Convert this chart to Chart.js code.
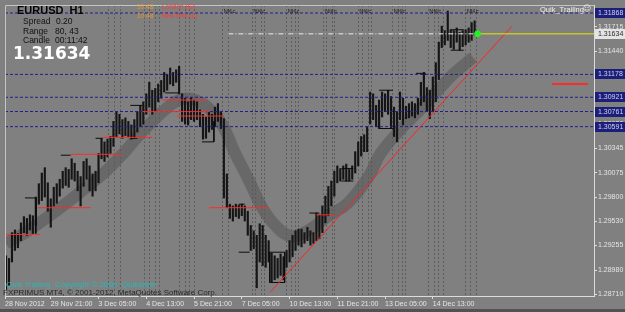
<!DOCTYPE html>
<html>
<head>
<meta charset="utf-8">
<script src="https://cdn.jsdelivr.net/npm/chart.js@4.4.1/dist/chart.umd.min.js"></script>
<style>
  html, body { margin: 0; padding: 0; background: #808080; }
  #wrap { position: relative; width: 625px; height: 312px; background: #808080; overflow: hidden; }
  #c { position: absolute; left: 0; top: 0; }
  #foot { position: absolute; left: 0; top: 309px; width: 625px; height: 3px; background: #525252; }
  .t { position: absolute; white-space: pre; line-height: 1; font-family: "Liberation Sans", Arial, sans-serif; }
</style>
</head>
<body>
<div id="wrap">
  <canvas id="c" width="625" height="312"></canvas>
  <div id="foot"></div>
  <span class="t" style="left:17px;top:5px;font-size:11px;font-weight:bold;color:#050505">EURUSD  H1</span>
  <span class="t" style="left:23px;top:17px;font-size:8.5px;color:#101010">Spread</span>
  <span class="t" style="left:56px;top:17px;font-size:8.5px;color:#101010">0.20</span>
  <span class="t" style="left:23px;top:27px;font-size:8.5px;color:#101010">Range</span>
  <span class="t" style="left:55px;top:27px;font-size:8.5px;color:#101010">80, 43</span>
  <span class="t" style="left:23px;top:36px;font-size:8.5px;color:#101010">Candle</span>
  <span class="t" style="left:55px;top:36px;font-size:8.5px;color:#101010">00:11:42</span>
  <span class="t" style="left:13px;top:45px;font-size:17px;font-weight:bold;color:#ffffff;font-family:'DejaVu Sans',sans-serif">1.31634</span>
  <span class="t" style="left:137px;top:4px;font-size:6.5px;color:#e8962e">10:48</span>
  <span class="t" style="left:162px;top:4px;font-size:6.5px;color:#ff3a3a">London (G)</span>
  <span class="t" style="left:137px;top:12.5px;font-size:6.5px;color:#e8962e">10:48</span>
  <span class="t" style="left:162px;top:12.5px;font-size:6.5px;color:#ff3a3a">NewYork (L)</span>
  <span class="t" style="left:540px;top:5.5px;font-size:7.5px;color:#f0f0f0">Quik_Trailing</span>
  <span class="t" style="left:583px;top:4.5px;font-size:8px;color:#f0f0f0;font-family:'DejaVu Sans',sans-serif">☺</span>
  <span class="t" style="left:6px;top:281px;font-size:8px;color:#26b8b8">Quik Trailing  Copyright © 2009  Quiksilver</span>
  <span class="t" style="left:3px;top:289px;font-size:8px;color:#262626">FXPRIMUS MT4, © 2001-2012, MetaQuotes Software Corp.</span>
</div>
<script>
// EURUSD H1, each entry below is a two-hour slot (x in hourly bars)
const slotHours = 2;
const highs = [
  1.2914, 1.2911, 1.2940, 1.2943, 1.2939, 1.2951, 1.2958, 1.2956, 1.2960, 1.2959,
  1.2980, 1.2995, 1.3007, 1.3013, 1.2996, 1.2978, 1.2991, 1.2995, 1.3000, 1.3009,
  1.3013, 1.3011, 1.3023, 1.3018, 1.3009, 1.3003, 1.3020, 1.3023, 1.3015, 1.3006,
  1.3009, 1.3029, 1.3046, 1.3042, 1.3045, 1.3048, 1.3065, 1.3076, 1.3073, 1.3067,
  1.3069, 1.3065, 1.3061, 1.3067, 1.3076, 1.3083, 1.3087, 1.3096, 1.3109, 1.3100,
  1.3102, 1.3107, 1.3111, 1.3120, 1.3118, 1.3125, 1.3120, 1.3123, 1.3127, 1.3096,
  1.3091, 1.3087, 1.3092, 1.3089, 1.3087, 1.3078, 1.3073, 1.3070, 1.3076, 1.3073,
  1.3081, 1.3085, 1.3076, 1.3068, 1.3006, 1.2972, 1.2970, 1.2972, 1.2971, 1.2972,
  1.2970, 1.2964, 1.2948, 1.2942, 1.2937, 1.2950, 1.2948, 1.2937, 1.2931, 1.2917,
  1.2914, 1.2911, 1.2916, 1.2913, 1.2920, 1.2931, 1.2937, 1.2942, 1.2944, 1.2944,
  1.2940, 1.2946, 1.2942, 1.2940, 1.2962, 1.2960, 1.2970, 1.2981, 1.2992, 1.2998,
  1.3009, 1.3015, 1.3012, 1.3015, 1.3017, 1.3011, 1.3015, 1.3031, 1.3042, 1.3048,
  1.3050, 1.3059, 1.3098, 1.3096, 1.3083, 1.3089, 1.3098, 1.3096, 1.3100, 1.3093,
  1.3081, 1.3076, 1.3098, 1.3091, 1.3082, 1.3085, 1.3087, 1.3085, 1.3091, 1.3109,
  1.3120, 1.3103, 1.3100, 1.3115, 1.3131, 1.3154, 1.3172, 1.3167, 1.3189, 1.3168,
  1.3167, 1.3170, 1.3165, 1.3167, 1.3168, 1.3170, 1.3176, 1.3178
];
const lows = [
  1.2876, 1.2881, 1.2907, 1.2920, 1.2923, 1.2931, 1.2940, 1.2937, 1.2943, 1.2939,
  1.2948, 1.2972, 1.2976, 1.2980, 1.2964, 1.2946, 1.2970, 1.2973, 1.2981, 1.2990,
  1.2993, 1.2991, 1.3000, 1.2998, 1.2987, 1.2970, 1.2992, 1.3000, 1.2987, 1.2981,
  1.2987, 1.2996, 1.3023, 1.3020, 1.3025, 1.3029, 1.3037, 1.3048, 1.3051, 1.3046,
  1.3049, 1.3048, 1.3045, 1.3046, 1.3053, 1.3059, 1.3062, 1.3073, 1.3081, 1.3073,
  1.3076, 1.3087, 1.3091, 1.3098, 1.3100, 1.3107, 1.3105, 1.3109, 1.3096, 1.3065,
  1.3062, 1.3061, 1.3067, 1.3065, 1.3067, 1.3059, 1.3045, 1.3046, 1.3053, 1.3056,
  1.3059, 1.3065, 1.3057, 1.2979, 1.2968, 1.2956, 1.2953, 1.2958, 1.2956, 1.2959,
  1.2953, 1.2937, 1.2920, 1.2922, 1.2878, 1.2907, 1.2903, 1.2901, 1.2907, 1.2884,
  1.2887, 1.2889, 1.2892, 1.2887, 1.2901, 1.2907, 1.2913, 1.2920, 1.2926, 1.2924,
  1.2928, 1.2931, 1.2926, 1.2928, 1.2931, 1.2933, 1.2940, 1.2951, 1.2959, 1.2970,
  1.2981, 1.2996, 1.2998, 1.3000, 1.2998, 1.2998, 1.3000, 1.3007, 1.3015, 1.3026,
  1.3031, 1.3031, 1.3062, 1.3067, 1.3059, 1.3057, 1.3070, 1.3076, 1.3073, 1.3058,
  1.3048, 1.3042, 1.3067, 1.3061, 1.3068, 1.3069, 1.3071, 1.3069, 1.3073, 1.3083,
  1.3087, 1.3076, 1.3068, 1.3076, 1.3087, 1.3112, 1.3148, 1.3151, 1.3156, 1.3148,
  1.3146, 1.3154, 1.3145, 1.3149, 1.3151, 1.3154, 1.3156, 1.3162
];

// moving average band
const bandBars = [0, 11, 25, 38, 51, 65, 78, 91, 105, 116, 125, 135, 145, 153, 163, 171, 180, 191, 203, 216, 229, 243, 251, 265, 278, 291, 301, 313];
const bandPrices = [1.2928, 1.2938, 1.2954, 1.2970, 1.2987, 1.3006, 1.3028, 1.3053, 1.3076, 1.3089, 1.3090, 1.3081, 1.3061, 1.3031,
  1.2998, 1.2970, 1.2949, 1.2936, 1.2943, 1.2959, 1.2973, 1.3003, 1.3029, 1.3057, 1.3079, 1.3103, 1.3120, 1.3137];

// trailing levels: [fromBar, toBar, price]
const redLevels = [[-0.67, 22.7, 1.2938], [21.3, 56.7, 1.2968], [43.3, 78, 1.3028], [64.7, 98, 1.3047], [91.3, 136.7, 1.3076],
  [104.7, 134, 1.3089], [114.7, 146, 1.3071], [136, 176, 1.2968], [208, 220, 1.2960], [366, 390, 1.3107]];
// range boxes: [bar0, price0, bar1, price1]
const boxEdges = [
  [12.7, 1.2979, 20, 1.2979], [20, 1.2979, 20, 1.2939], [36.7, 1.3027, 43.3, 1.3027], [60, 1.3046, 64.7, 1.3046],
  [83.3, 1.3046, 88, 1.3046], [83.3, 1.3083, 91.3, 1.3083], [106.7, 1.3097, 116, 1.3097],
  [131.3, 1.3042, 139.3, 1.3042], [139.3, 1.3065, 139.3, 1.3042], [156, 1.2972, 160, 1.2972], [156, 1.2918, 163.3, 1.2918],
  [176.7, 1.2918, 186.7, 1.2918], [176.7, 1.2884, 186.7, 1.2884], [176.7, 1.2918, 176.7, 1.2884], [186.7, 1.2918, 186.7, 1.2884],
  [203.3, 1.2962, 210, 1.2962], [224.7, 1.3012, 232.7, 1.3012], [224.7, 1.2998, 232.7, 1.2998],
  [250, 1.3100, 259.3, 1.3100], [250, 1.3057, 259.3, 1.3057], [274.7, 1.3119, 281.3, 1.3119],
  [298, 1.3168, 306.7, 1.3168], [298, 1.3145, 306.7, 1.3145]
];
const trendBars = [177, 339];
const trendPrices = [1.2873, 1.3172];

const levels = [1.31868, 1.31178, 1.30921, 1.30761, 1.30591];
const bid = 1.31634;
const bidBar = 316;
const bidLineFrom = 149;

const newsBars = [69, 73, 77, 93, 96, 100, 103, 116, 120, 123, 126, 145, 149, 165, 167, 171, 173, 188, 191, 194, 196,
  213, 215, 219, 220, 236, 239, 243, 245, 259, 263, 266, 268, 283, 287, 290, 293, 308, 311, 315];
const newsTagBars = [145, 165, 188, 213, 236, 259, 283, 308];

const xMin = -0.67, xMax = 394;
const yMin = 1.28688, yMax = 1.31958;
const dateBars = [-0.67, 30, 62, 94, 126, 158, 190, 222, 254, 286];
const dateLabels = ['28 Nov 2012', '29 Nov 21:00', '3 Dec 05:00', '4 Dec 13:00', '5 Dec 21:00', '7 Dec 05:00',
  '10 Dec 13:00', '11 Dec 21:00', '13 Dec 05:00', '14 Dec 13:00'];
const priceTicks = [1.31715, 1.31440, 1.31165, 1.30890, 1.30620, 1.30345, 1.30075, 1.29800, 1.29530, 1.29255, 1.28980, 1.28710];

const axisFont = { family: 'Liberation Sans', size: 7 };
const axisColor = '#dcdcdc';

function seg(x0, y0, x1, y1, color, order, width) {
  return { type: 'line', data: [{ x: x0, y: y0 }, { x: x1, y: y1 }], borderColor: color, borderWidth: width || 1,
    pointRadius: 0, order: order };
}

const datasets = [];
datasets.push({
  type: 'line', label: 'band', data: bandBars.map((b, i) => ({ x: b, y: bandPrices[i] })),
  borderColor: 'rgba(88,88,88,0.6)', borderWidth: 12, tension: 0.4, pointRadius: 0, borderCapStyle: 'butt', order: 20
});
datasets.push({
  type: 'bar', label: 'EURUSD', data: highs.map((h, j) => ({ x: j * slotHours, y: [lows[j], h] })),
  backgroundColor: '#151515', barThickness: 1.5, order: 10
});
levels.forEach(v => {
  const d = seg(xMin, v, xMax, v, '#1f1f8e', 8);
  d.borderDash = [3, 2];
  datasets.push(d);
});
redLevels.forEach(r => datasets.push(seg(r[0], r[2], r[1], r[2], '#ff2a2a', 6, r[0] > 350 ? 2 : 1)));
boxEdges.forEach(b => datasets.push(seg(b[0], b[1], b[2], b[3], '#0d0d0d', 7)));
datasets.push(seg(trendBars[0], trendPrices[0], trendBars[1], trendPrices[1], '#ff2222', 5));
const dd = seg(bidLineFrom, bid, bidBar, bid, '#ececec', 4);
dd.borderDash = [5, 2, 1, 2];
datasets.push(dd);
datasets.push(seg(bidBar, bid, xMax, bid, '#e8e800', 3));
datasets.push({ type: 'line', data: [{ x: bidBar, y: bid }], showLine: false, pointRadius: 3,
  pointBackgroundColor: '#22f022', pointBorderColor: '#22f022', order: 1 });

const overlay = {
  id: 'overlay',
  afterDraw(chart) {
    const { ctx, chartArea: a, scales: { x, y } } = chart;
    ctx.save();
    ctx.strokeStyle = '#c4c4c4';
    ctx.lineWidth = 1;
    ctx.beginPath();
    ctx.moveTo(a.left + 0.5, a.bottom);
    ctx.lineTo(a.left + 0.5, a.top + 0.5);
    ctx.lineTo(a.right, a.top + 0.5);
    ctx.stroke();

    ctx.font = '6px "Liberation Sans"';
    ctx.fillStyle = '#1e1e1e';
    ctx.textBaseline = 'alphabetic';
    newsTagBars.forEach(b => ctx.fillText('Nl¢c', x.getPixelForValue(b) + 1, a.top + 8));

    ctx.font = '7px "Liberation Sans"';
    ctx.textBaseline = 'middle';
    levels.forEach(v => {
      const py = Math.round(y.getPixelForValue(v));
      ctx.fillStyle = '#1c1f7a';
      ctx.fillRect(a.right + 1, py - 5, 31, 10);
      ctx.fillStyle = '#cfd3ee';
      ctx.fillText(v.toFixed(5), a.right + 4, py + 0.5);
    });
    const by = Math.round(y.getPixelForValue(bid));
    ctx.fillStyle = '#e4e4e4';
    ctx.fillRect(a.right + 1, by - 5, 31, 10);
    ctx.fillStyle = '#2a2a2a';
    ctx.fillText(bid.toFixed(5), a.right + 4, by + 0.5);
    ctx.restore();
  }
};

new Chart(document.getElementById('c'), {
  type: 'bar',
  data: { datasets },
  plugins: [overlay],
  options: {
    responsive: false,
    animation: false,
    events: [],
    layout: { padding: { left: 2, top: 2, right: 0, bottom: 0 } },
    plugins: { legend: { display: false }, tooltip: { enabled: false } },
    scales: {
      x: {
        type: 'linear', position: 'bottom', min: xMin, max: xMax, offset: false, bounds: 'data',
        grid: { offset: false, drawOnChartArea: false, drawTicks: true, tickLength: 3, color: axisColor },
        border: { display: true, color: axisColor },
        ticks: { align: 'start', autoSkip: false, maxRotation: 0, minRotation: 0, padding: 1, color: '#e4e4e4',
          font: axisFont, callback: (v, i) => dateLabels[i] },
        afterBuildTicks: s => { s.ticks = dateBars.map(v => ({ value: v })); },
        afterFit: s => { s.height = 16; s.paddingLeft = 0; s.paddingRight = 0; }
      },
      xNews: {
        type: 'linear', axis: 'x', position: 'bottom', min: xMin, max: xMax, offset: false, bounds: 'data',
        grid: { offset: false, drawOnChartArea: true, drawTicks: false, color: '#5e5e5e' },
        border: { display: false, dash: [2, 2] },
        ticks: { display: false },
        afterBuildTicks: s => { s.ticks = newsBars.map(v => ({ value: v })); },
        afterFit: s => { s.height = 0; s.paddingLeft = 0; s.paddingRight = 0; }
      },
      y: {
        type: 'linear', position: 'right', min: yMin, max: yMax, bounds: 'data',
        grid: { drawOnChartArea: false, drawTicks: true, tickLength: 3, color: axisColor },
        border: { display: true, color: axisColor },
        ticks: { crossAlign: 'near', autoSkip: false, padding: 1, color: '#e4e4e4', font: axisFont,
          callback: v => v.toFixed(5) },
        afterBuildTicks: s => { s.ticks = priceTicks.map(v => ({ value: v })); },
        afterFit: s => { s.width = 31; s.paddingTop = 0; s.paddingBottom = 0; }
      }
    }
  }
});
</script>
</body>
</html>
